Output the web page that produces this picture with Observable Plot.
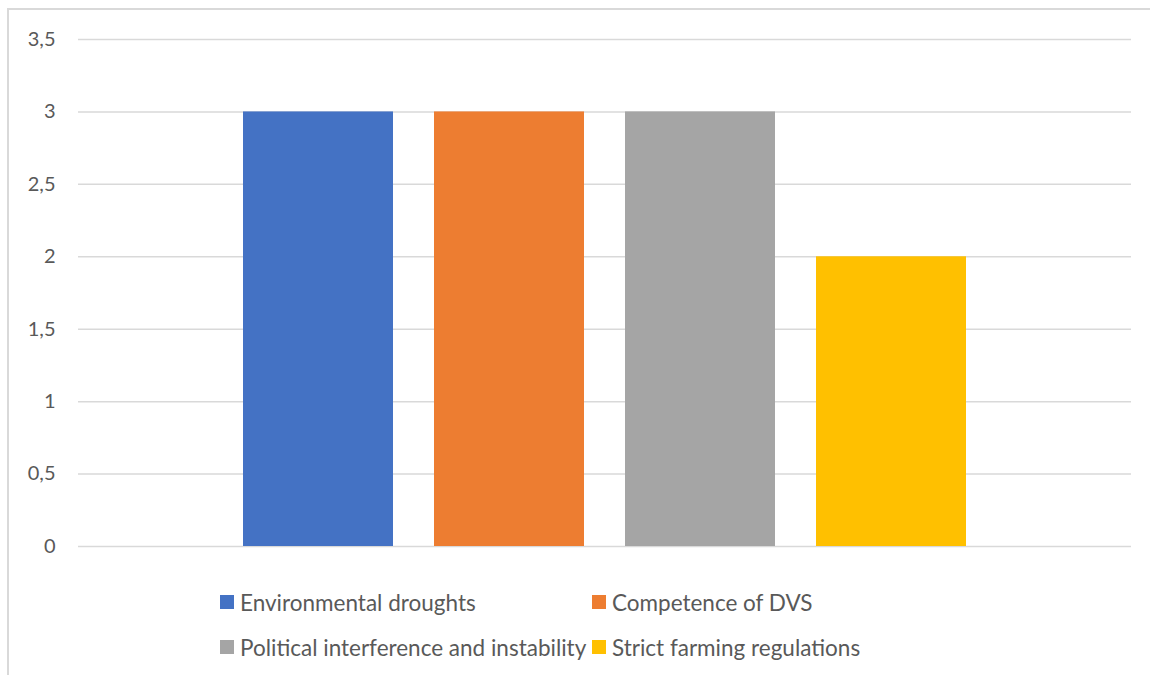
<!DOCTYPE html>
<html>
<head>
<meta charset="utf-8">
<script src="https://cdn.jsdelivr.net/npm/d3@7"></script>
<script src="https://cdn.jsdelivr.net/npm/@observablehq/plot@0.6"></script>
<style>
  html, body { margin: 0; padding: 0; background: #fff; }
  body { width: 1150px; height: 675px; position: relative; overflow: hidden; font-family: Lato, "Open Sans", sans-serif; }
  #frame { position: absolute; left: 7px; top: 8px; right: 0; bottom: -5px; border-top: 2px solid #d9d9d9; border-left: 2px solid #d9d9d9; }
  #chart { position: absolute; left: 0; top: 0; }
  #legend { position: absolute; left: 220px; top: 590px; display: grid; grid-template-columns: 372px auto; row-gap: 21px; color: #595959; font-size: 22.5px; }
  .item { display: flex; align-items: center; height: 24px; white-space: nowrap; }
  .sw { width: 14px; height: 14px; margin-right: 6px; flex: none; }
</style>
</head>
<body>
<div id="frame"></div>
<div id="chart"></div>
<div id="legend"></div>
<script>
const series = ["Environmental droughts", "Competence of DVS", "Political interference and instability", "Strict farming regulations"];
const values = [3, 3, 3, 2];
const colors = ["#4472C4", "#ED7D31", "#A5A5A5", "#FFC000"];
const yTicks = [0, 0.5, 1, 1.5, 2, 2.5, 3, 3.5];

const data = series.map((s, i) => ({series: s, value: values[i]}));
const fmt = d => String(d).replace(".", ",");

const chart = Plot.plot({
  width: 1150,
  height: 560,
  marginLeft: 78,
  marginRight: 19,
  marginTop: 39,
  marginBottom: 14,
  style: {fontFamily: "Lato, 'Open Sans', sans-serif", fontSize: "20px", color: "#595959", background: "transparent"},
  x: {domain: series, paddingInner: 0.215, paddingOuter: 0.864, axis: null},
  y: {domain: [0, 3.5], ticks: yTicks, tickFormat: fmt, tickSize: 0, tickPadding: 23, label: null},
  color: {domain: series, range: colors},
  marks: [
    Plot.ruleY(yTicks, {stroke: "#d9d9d9", strokeWidth: 1.5}),
    Plot.barY(data, {x: "series", y: "value", fill: "series"}),
    Plot.axisY({ticks: yTicks, tickFormat: fmt, tickSize: 0, tickPadding: 23, fill: "#595959", fontSize: 20, label: null})
  ]
});
document.getElementById("chart").appendChild(chart);

const legend = document.getElementById("legend");
series.forEach((s, i) => {
  const item = document.createElement("div");
  item.className = "item";
  const sw = document.createElement("span");
  sw.className = "sw";
  sw.style.background = colors[i];
  const t = document.createElement("span");
  t.textContent = s;
  item.appendChild(sw);
  item.appendChild(t);
  legend.appendChild(item);
});
</script>
</body>
</html>
